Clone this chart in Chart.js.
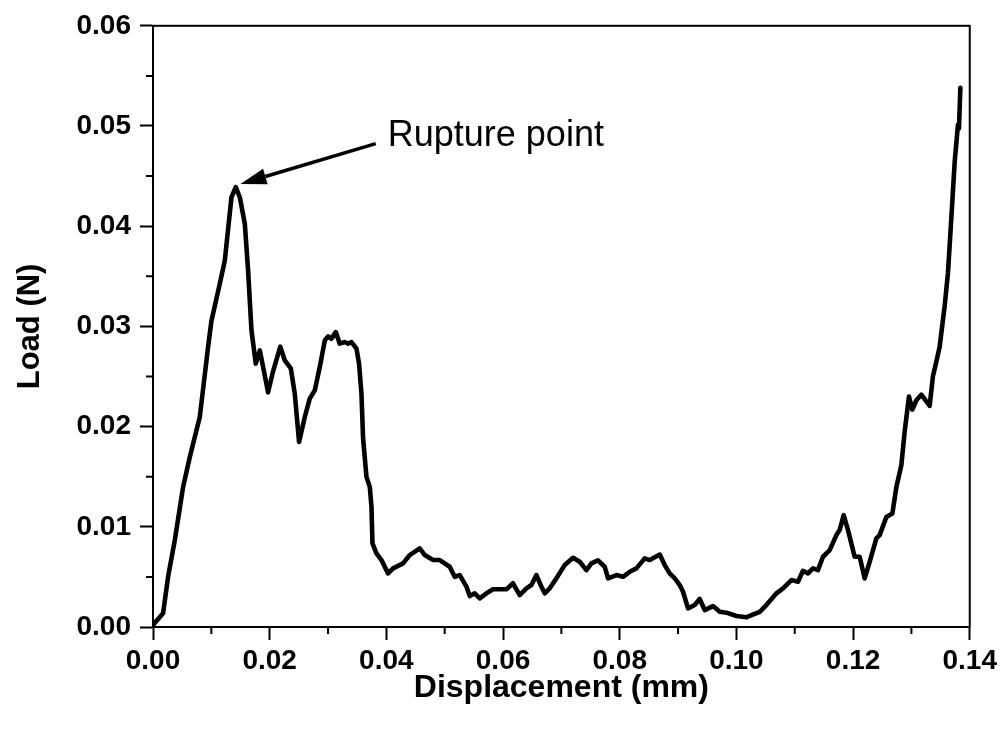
<!DOCTYPE html>
<html><head><meta charset="utf-8">
<script src="https://cdn.jsdelivr.net/npm/chart.js@4"></script>
<style>html,body{margin:0;padding:0;background:#fff}#wrap{width:1001px;height:731px}</style>
</head><body><div id="wrap"><canvas id="c" width="1001" height="731"></canvas></div>
<script>
const displacement = [0.0000,0.00173,0.00259,0.00374,0.00516,0.00631,0.00802,0.00944,0.01003,0.01145,
0.01231,0.01345,0.01419,0.01488,0.01574,0.01630,0.01688,0.01762,0.01831,0.01973,
0.02058,0.02182,0.02259,0.02362,0.02430,0.02504,0.02602,0.02687,0.02773,0.02859,
0.02945,0.03001,0.03059,0.03133,0.03201,0.03287,0.03344,0.03402,0.03488,0.03532,
0.03573,0.03601,0.03659,0.03716,0.03745,0.03762,0.03830,0.03916,0.04029,0.04115,
0.04286,0.04401,0.04572,0.04658,0.04800,0.04915,0.05086,0.05172,0.05258,0.05373,
0.05429,0.05515,0.05601,0.05716,0.05829,0.06058,0.06171,0.06286,0.06401,0.06487,
0.06572,0.06658,0.06715,0.06800,0.06915,0.07057,0.07200,0.07314,0.07429,0.07515,
0.07628,0.07743,0.07800,0.07943,0.08057,0.08171,0.08286,0.08428,0.08514,0.08686,
0.08771,0.08857,0.08943,0.09029,0.09085,0.09171,0.09285,0.09371,0.09457,0.09599,
0.09714,0.09829,0.10000,0.10171,0.10228,0.10400,0.10514,0.10686,0.10799,0.10943,
0.11056,0.11141,0.11227,0.11313,0.11398,0.11484,0.11599,0.11714,0.11770,0.11839,
0.11913,0.12027,0.12113,0.12199,0.12285,0.12399,0.12456,0.12571,0.12674,0.12742,
0.12828,0.12884,0.12958,0.13016,0.13085,0.13170,0.13313,0.13369,0.13428,0.13484,
0.13570,0.13627,0.13685,0.13742,0.13798,0.13815,0.13839];
const load = [0.0002,0.00137,0.00502,0.00867,0.01398,0.01697,0.02096,0.02794,0.03060,0.03426,
0.03658,0.04289,0.04389,0.04289,0.04024,0.03558,0.02960,0.02628,0.02761,0.02342,
0.02552,0.02798,0.02661,0.02581,0.02329,0.01847,0.02096,0.02279,0.02362,0.02594,
0.02861,0.02900,0.02877,0.02943,0.02828,0.02844,0.02828,0.02844,0.02778,0.02628,
0.02329,0.01884,0.01498,0.01398,0.01199,0.00834,0.00735,0.00668,0.00535,0.00585,
0.00635,0.00718,0.00784,0.00718,0.00668,0.00668,0.00601,0.00501,0.00518,0.00402,
0.00309,0.00336,0.00286,0.00336,0.00376,0.00376,0.00436,0.00319,0.00386,0.00419,
0.00518,0.00402,0.00336,0.00386,0.00485,0.00618,0.00691,0.00651,0.00568,0.00635,
0.00665,0.00601,0.00485,0.00518,0.00501,0.00551,0.00585,0.00685,0.00668,0.00723,
0.00618,0.00535,0.00485,0.00419,0.00352,0.00186,0.00219,0.00279,0.00169,0.00209,
0.00152,0.00143,0.00110,0.00097,0.00110,0.00152,0.00219,0.00336,0.00386,0.00468,
0.00452,0.00561,0.00535,0.00585,0.00568,0.00701,0.00767,0.00917,0.00967,0.01116,
0.00967,0.00701,0.00701,0.00485,0.00651,0.00884,0.00917,0.01099,0.01133,0.01396,
0.01617,0.01949,0.02299,0.02170,0.02263,0.02318,0.02207,0.02503,0.02650,0.02798,
0.03203,0.03536,0.04090,0.04644,0.05012,0.04975,0.05382];

const xMajorTicks = [0, 0.02, 0.04, 0.06, 0.08, 0.10, 0.12, 0.14];
const xTickLabels = ['0.00','0.02','0.04','0.06','0.08','0.10','0.12','0.14'];
const xMinorTicks = [0.01, 0.03, 0.05, 0.07, 0.09, 0.11, 0.13];
const yMajorTicks = [0, 0.01, 0.02, 0.03, 0.04, 0.05, 0.06];
const yTickLabels = ['0.00','0.01','0.02','0.03','0.04','0.05','0.06'];
const yMinorTicks = [0.005, 0.015, 0.025, 0.035, 0.045, 0.055];

const annotationText = 'Rupture point';
const annotationAt = {x: 0.04024, y: 0.04804};
const arrowTail = {x: 0.03818, y: 0.04824};
const arrowTip = {x: 0.01499, y: 0.04422};

const FONT = "'Liberation Sans', Arial, sans-serif";
const points = displacement.map((x, i) => ({x: x, y: load[i]}));

const extras = {
  id: 'extras',
  afterDraw(chart) {
    const ctx = chart.ctx, a = chart.chartArea;
    const xs = chart.scales.x, ys = chart.scales.y;
    ctx.save();
    ctx.strokeStyle = '#000';
    ctx.lineWidth = 2;
    ctx.strokeRect(a.left, a.top, a.right - a.left, a.bottom - a.top);
    ctx.beginPath();
    xMinorTicks.forEach(v => { const p = xs.getPixelForValue(v); ctx.moveTo(p, a.bottom); ctx.lineTo(p, a.bottom + 7); });
    yMinorTicks.forEach(v => { const p = ys.getPixelForValue(v); ctx.moveTo(a.left, p); ctx.lineTo(a.left - 7, p); });
    ctx.stroke();
    const tx = xs.getPixelForValue(arrowTail.x), ty = ys.getPixelForValue(arrowTail.y);
    const hx = xs.getPixelForValue(arrowTip.x), hy = ys.getPixelForValue(arrowTip.y);
    const ang = Math.atan2(hy - ty, hx - tx);
    const hl = 26, hw = 8;
    const bx = hx - hl * Math.cos(ang), by = hy - hl * Math.sin(ang);
    ctx.lineWidth = 3.5;
    ctx.beginPath(); ctx.moveTo(tx, ty); ctx.lineTo(bx, by); ctx.stroke();
    ctx.fillStyle = '#000';
    ctx.beginPath();
    ctx.moveTo(hx, hy);
    ctx.lineTo(bx + hw * Math.sin(ang), by - hw * Math.cos(ang));
    ctx.lineTo(bx - hw * Math.sin(ang), by + hw * Math.cos(ang));
    ctx.closePath(); ctx.fill();
    ctx.font = "36px " + FONT;
    ctx.textAlign = 'left'; ctx.textBaseline = 'alphabetic';
    ctx.fillText(annotationText, xs.getPixelForValue(annotationAt.x), ys.getPixelForValue(annotationAt.y));
    ctx.restore();
  }
};

new Chart(document.getElementById('c'), {
  type: 'scatter',
  data: { datasets: [{ data: points, showLine: true, borderColor: '#000', borderWidth: 4.6, pointRadius: 0, tension: 0, borderJoinStyle: 'round', borderCapStyle: 'round', fill: false }] },
  options: {
    responsive: false, animation: false, devicePixelRatio: 1,
    layout: { padding: { left: 0, right: 31, top: 25, bottom: 0 } },
    plugins: { legend: { display: false }, tooltip: { enabled: false } },
    scales: {
      x: {
        type: 'linear', min: 0, max: 0.14,
        afterBuildTicks: s => { s.ticks = xMajorTicks.map(v => ({value: v})); },
        afterFit: s => { s.height = 104; },
        ticks: { callback: (v, i) => xTickLabels[i], font: { family: FONT, size: 28, weight: 'bold' }, color: '#000', padding: 4, maxRotation: 0, autoSkip: false },
        grid: { drawOnChartArea: false, tickLength: 13, tickWidth: 2, tickColor: '#000' },
        border: { color: '#000', width: 2 },
        title: { display: true, text: 'Displacement (mm)', color: '#000', font: { family: FONT, size: 32, weight: 'bold' }, padding: { top: 0, bottom: 24 } }
      },
      y: {
        type: 'linear', min: 0, max: 0.06,
        afterBuildTicks: s => { s.ticks = yMajorTicks.map(v => ({value: v})); },
        afterFit: s => { s.width = 153; },
        ticks: { callback: (v, i) => yTickLabels[i], font: { family: FONT, size: 28, weight: 'bold' }, color: '#000', padding: 9, autoSkip: false },
        grid: { drawOnChartArea: false, tickLength: 13, tickWidth: 2, tickColor: '#000' },
        border: { color: '#000', width: 2 },
        title: { display: true, text: 'Load (N)', color: '#000', font: { family: FONT, size: 31, weight: 'bold' }, padding: { top: 12, bottom: 0 } }
      }
    }
  },
  plugins: [extras]
});
</script></body></html>
